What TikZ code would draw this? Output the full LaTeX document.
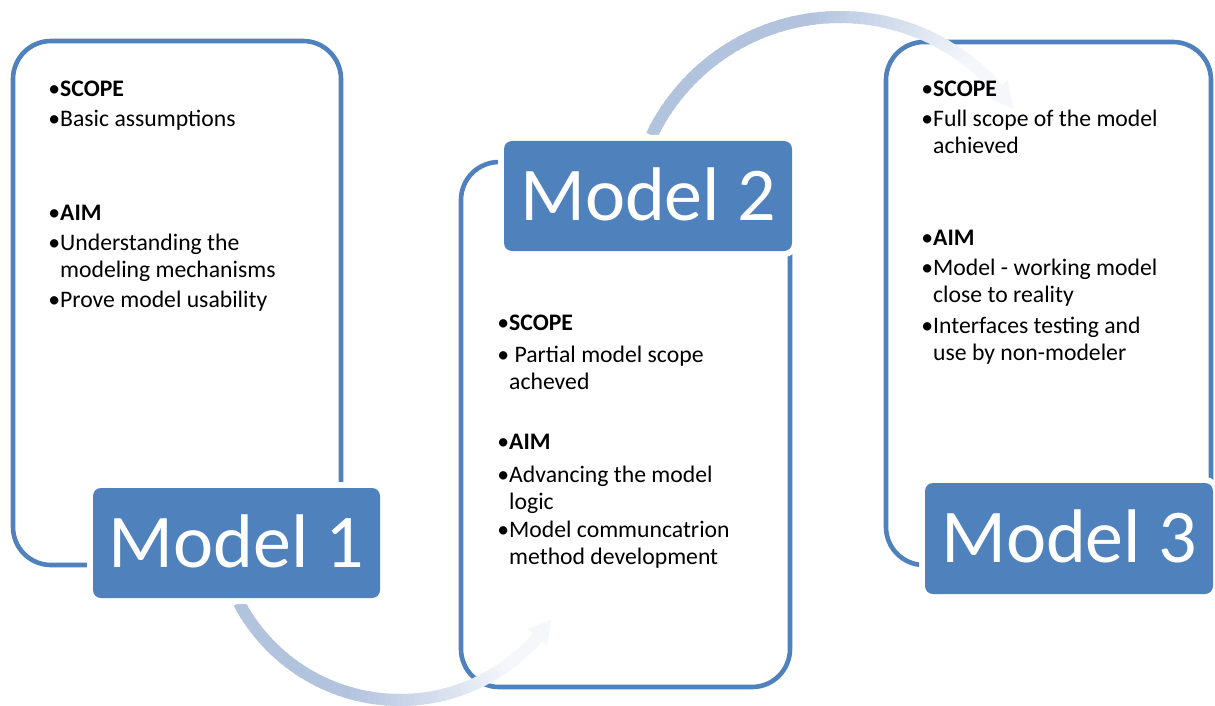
\documentclass[tikz,border=0pt]{standalone}
\usepackage{fontspec}
\setmainfont{Carlito}
\usetikzlibrary{calc}
\definecolor{mblue}{RGB}{79,129,189}
\definecolor{arrowblue}{RGB}{178,195,222}
\definecolor{arrowpale}{RGB}{245,247,251}
% bullet hung in the left margin of an item
\newcommand\bulmark{\llap{•}}
% item whose text wraps onto a second line
\newcommand\twoline[2]{\vtop{\hbox{#1}\hbox{#2}}}
\begin{document}
\begin{tikzpicture}[x=1pt,y=-1pt,
  panel/.style={draw=mblue, line width=4.6pt, rounded corners=38pt, inner sep=0pt},
  labelbox/.style={fill=mblue, rounded corners=8pt,
    preaction={draw=white, line width=12pt},
    inner sep=0pt, text=white, font=\fontsize{76}{80}\selectfont,
    text height=48pt, text depth=0pt},
  item/.style={anchor=base west, inner sep=0pt, font=\fontsize{23.7}{27}\selectfont},
  arrowhead/.style={fill=arrowpale}]
\useasboundingbox (0,0) rectangle (1215,706);
\fill[white] (0,0) rectangle (1215,706);

% outlined panels
\node[panel, minimum width=328pt, minimum height=524pt] (p1) at (177,303) {};
\node[panel, minimum width=329pt, minimum height=525pt] (p2) at (625.5,424.5) {};
\node[panel, minimum width=325pt, minimum height=523pt] (p3) at (1048.5,303.5) {};

% curved arrow from Model 1 to Model 2, fading towards its head
\coordinate (c1) at (400,518);
\foreach \i in {0,...,59} {
  \pgfmathsetmacro\aa{152.2+(41-152.2)*\i/60}
  \pgfmathsetmacro\ab{152.2+(41-152.2)*(\i+1.4)/60}
  \pgfmathsetmacro\p{min(100,max(0,100*(0.88-\i/60)/0.48))}
  \draw[line width=12pt, arrowblue!\p!arrowpale] ($(c1)+(\aa:182)$) arc[start angle=\aa, end angle=\ab, radius=182];
}
\fill[arrowhead] ($(c1)+(41:169)$) -- ($(c1)+(34:182)$) -- ($(c1)+(41:195)$) -- cycle;

% curved arrow from Model 2 to Model 3
\coordinate (c2) at (840,226);
\foreach \i in {0,...,59} {
  \pgfmathsetmacro\aa{205.7+(319-205.7)*\i/60}
  \pgfmathsetmacro\ab{205.7+(319-205.7)*(\i+1.4)/60}
  \pgfmathsetmacro\p{min(100,max(0,100*(0.9-\i/60)/0.42))}
  \draw[line width=12pt, arrowblue!\p!arrowpale] ($(c2)+(\aa:209)$) arc[start angle=\aa, end angle=\ab, radius=209];
}
\fill[arrowhead] ($(c2)+(319:196)$) -- ($(c2)+(326:209)$) -- ($(c2)+(319:222)$) -- cycle;

% title boxes
\node[labelbox, minimum width=287pt, minimum height=110pt] (m1) at (236.5,543) {Model 1};
\node[labelbox, minimum width=288pt, minimum height=110pt] (m2) at (648,196) {Model 2};
\node[labelbox, minimum width=288pt, minimum height=111pt] (m3) at (1069,538.5) {Model 3};

% first panel
\node[item] (a1) at (60,97) {\bulmark\textbf{SCOPE}};
\node[item] (a2) at (60,127) {\bulmark Basic assumptions};
\node[item] (a3) at (60,220) {\bulmark\textbf{AIM}};
\node[item] (a4) at (60,250) {\twoline{\bulmark Understanding the}{modeling mechanisms}};
\node[item] (a5) at (60,307) {\bulmark Prove model usability};

% second panel
\node[item] (b1) at (509,330) {\bulmark\textbf{SCOPE}};
\node[item] (b2) at (509,362) {\twoline{\bulmark\ Partial model scope}{acheved}};
\node[item] (b3) at (509,449) {\bulmark\textbf{AIM}};
\node[item] (b4) at (509,482) {\twoline{\bulmark Advancing the model}{logic}};
\node[item] (b5) at (509,537) {\twoline{\bulmark Model communcatrion}{method development}};

% third panel
\node[item] (d1) at (933,97) {\bulmark\textbf{SCOPE}};
\node[item] (d2) at (933,127) {\twoline{\bulmark Full scope of the model}{achieved}};
\node[item] (d3) at (933,245) {\bulmark\textbf{AIM}};
\node[item] (d4) at (933,275) {\twoline{\bulmark Model - working model}{close to reality}};
\node[item] (d5) at (933,333) {\twoline{\bulmark Interfaces testing and}{use by non-modeler}};
\end{tikzpicture}
\end{document}
